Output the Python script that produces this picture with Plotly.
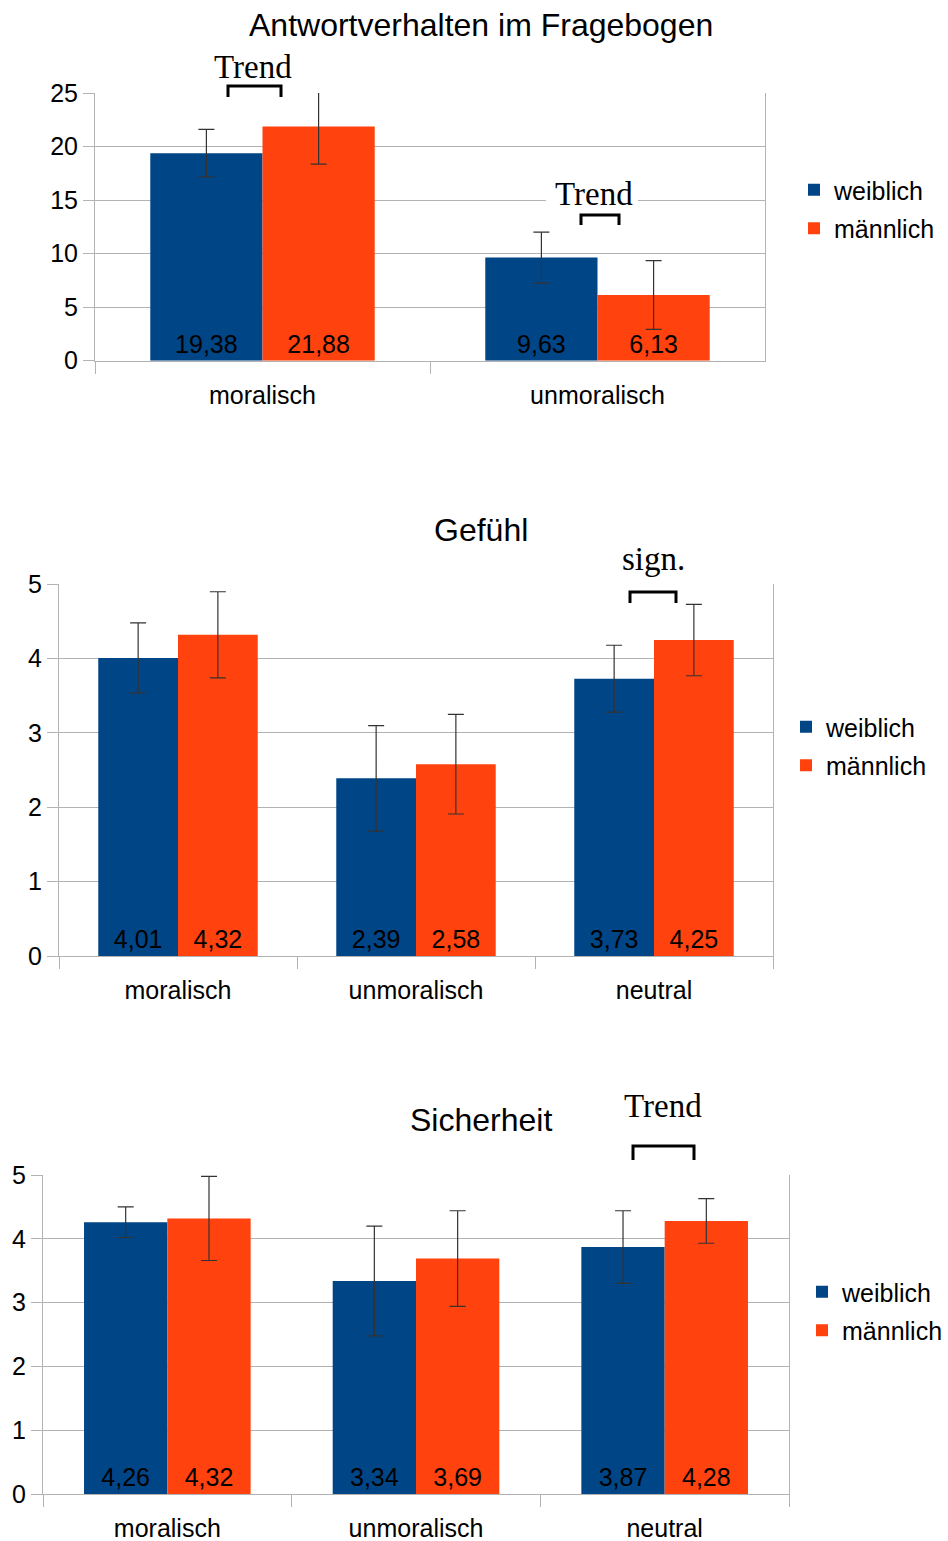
import plotly.graph_objects as go

W, H = 948, 1541

series_names = ["weiblich", "männlich"]
series_colors = ["#004586", "#ff420e"]

# ---- Chart 1: Antwortverhalten im Fragebogen
c1_title = "Antwortverhalten im Fragebogen"
c1_categories = ["moralisch", "unmoralisch"]
c1_weiblich = [19.38, 9.63]
c1_maennlich = [21.88, 6.13]
c1_weiblich_err = [2.22, 2.38]
c1_maennlich_err = [3.52, 3.21]
c1_yrange = [0, 25]
c1_ydtick = 5

# ---- Chart 2: Gefühl
c2_title = "Gefühl"
c2_categories = ["moralisch", "unmoralisch", "neutral"]
c2_weiblich = [4.01, 2.39, 3.73]
c2_maennlich = [4.32, 2.58, 4.25]
c2_weiblich_err = [0.47, 0.71, 0.45]
c2_maennlich_err = [0.58, 0.67, 0.48]
c2_yrange = [0, 5]
c2_ydtick = 1

# ---- Chart 3: Sicherheit
c3_title = "Sicherheit"
c3_categories = ["moralisch", "unmoralisch", "neutral"]
c3_weiblich = [4.26, 3.34, 3.87]
c3_maennlich = [4.32, 3.69, 4.28]
c3_weiblich_err = [0.24, 0.86, 0.57]
c3_maennlich_err = [0.66, 0.75, 0.35]
c3_yrange = [0, 5]
c3_ydtick = 1

# significance markers
sig_labels = ["Trend", "Trend", "sign.", "Trend"]

FONT = "Liberation Sans, Arial, sans-serif"
SERIF = "Liberation Serif, Times New Roman, serif"
GRID = "#b3b3b3"


def px_x(x):
    return x / W


def px_y(y):
    return 1 - y / H


def fmt(v):
    return f"{v:.2f}".replace(".", ",")


charts = [
    dict(title=c1_title, cats=c1_categories, w=c1_weiblich, m=c1_maennlich,
         we=c1_weiblich_err, me=c1_maennlich_err, yr=c1_yrange, dt=c1_ydtick,
         box=(95, 765, 93, 360.7), title_y=25, legend=(794, 167)),
    dict(title=c2_title, cats=c2_categories, w=c2_weiblich, m=c2_maennlich,
         we=c2_weiblich_err, me=c2_maennlich_err, yr=c2_yrange, dt=c2_ydtick,
         box=(59, 773, 584.3, 956), title_y=530, legend=(786, 704)),
    dict(title=c3_title, cats=c3_categories, w=c3_weiblich, m=c3_maennlich,
         we=c3_weiblich_err, me=c3_maennlich_err, yr=c3_yrange, dt=c3_ydtick,
         box=(43, 789, 1175, 1494), title_y=1120, legend=(802, 1269)),
]

fig = go.Figure()
layout = dict(
    width=W, height=H,
    margin=dict(l=0, r=0, t=0, b=0, pad=0, autoexpand=False),
    paper_bgcolor="white", plot_bgcolor="white",
    font=dict(family=FONT, size=25, color="black"),
    barmode="group", bargap=0.33, bargroupgap=0,
    annotations=[], shapes=[],
)

for i, c in enumerate(charts):
    sfx = "" if i == 0 else str(i + 1)
    xa, ya = "x" + sfx, "y" + sfx
    lg = "legend" + sfx
    vals = [c["w"], c["m"]]
    errs = [c["we"], c["me"]]
    for s in range(2):
        fig.add_trace(go.Bar(
            x=c["cats"], y=vals[s], name=series_names[s],
            marker=dict(color=series_colors[s],
                        line=dict(width=10, color="rgba(0,0,0,0)")),
            error_y=dict(type="data", array=errs[s], color="#333333",
                         thickness=1.2, width=8),
            text=[fmt(v) for v in vals[s]],
            textposition="inside", insidetextanchor="start",
            textangle=0, constraintext="none",
            insidetextfont=dict(family=FONT, size=25, color="black"),
            xaxis=xa, yaxis=ya, legend=lg, offsetgroup=str(s),
            legendgroup=f"c{i}s{s}", showlegend=True,
        ))
    x0, x1, y0, y1 = c["box"]
    layout["xaxis" + sfx] = dict(
        domain=[px_x(x0), px_x(x1)], anchor=ya,
        type="category", showgrid=False,
        showline=True, linecolor=GRID, linewidth=1,
        ticks="outside", tickson="boundaries", ticklen=12, tickcolor=GRID,
        tickfont=dict(family=FONT, size=25, color="black"),
        ticklabelstandoff=12, fixedrange=True, automargin=False,
    )
    layout["yaxis" + sfx] = dict(
        domain=[px_y(y1), px_y(y0)], anchor=xa,
        range=c["yr"], dtick=c["dt"], tick0=0,
        showgrid=True, gridcolor=GRID, gridwidth=1, zeroline=False,
        showline=True, linecolor=GRID, linewidth=1, mirror=True,
        ticks="outside", ticklen=11, tickcolor=GRID,
        tickfont=dict(family=FONT, size=25, color="black"),
        ticklabelstandoff=0, fixedrange=True, automargin=False,
    )
    lx, ly = c["legend"]
    layout[lg] = dict(
        x=px_x(lx), y=px_y(ly), xanchor="left", yanchor="top",
        xref="paper", yref="paper",
        font=dict(family=FONT, size=25, color="black"),
        bgcolor="rgba(0,0,0,0)", traceorder="grouped", tracegroupgap=3,
    )
    layout["annotations"].append(dict(
        text=c["title"], x=px_x(481), y=px_y(c["title_y"]),
        xref="paper", yref="paper", xanchor="center", yanchor="middle",
        showarrow=False, font=dict(family=FONT, size=32, color="black"),
    ))

# significance labels:
# (label, text centre x, text centre y, white box x0, x1, y0, y1, bracket x0, x1, top y, bottom y)
sig_pos = [
    (sig_labels[0], 253, 67, 211, 297, 50, 96, 228, 281, 86, 97),
    (sig_labels[1], 594, 194, 546, 638, 178, 209, 581, 619, 215, 225),
    (sig_labels[2], 653, 559, 617, 688, 540, 588, 630, 676, 592, 603),
    (sig_labels[3], 663, 1106, 620, 705, 1090, 1125, 633, 694, 1146, 1160),
]
for lab, tx, ty, wx0, wx1, wy0, wy1, bx0, bx1, bt, bb in sig_pos:
    layout["shapes"].append(dict(
        type="rect", xref="paper", yref="paper", layer="above",
        x0=px_x(wx0), x1=px_x(wx1), y0=px_y(wy1), y1=px_y(wy0),
        fillcolor="white", line=dict(width=0),
    ))
    layout["shapes"].append(dict(
        type="path", xref="paper", yref="paper", layer="above",
        path=(f"M{px_x(bx0)},{px_y(bb)} L{px_x(bx0)},{px_y(bt)} "
              f"L{px_x(bx1)},{px_y(bt)} L{px_x(bx1)},{px_y(bb)}"),
        line=dict(color="black", width=3),
    ))
    layout["annotations"].append(dict(
        text=lab, x=px_x(tx), y=px_y(ty), xref="paper", yref="paper",
        xanchor="center", yanchor="middle", showarrow=False,
        font=dict(family=SERIF, size=33, color="black"),
    ))

fig.update_layout(**layout)
fig.write_html("out.html")
